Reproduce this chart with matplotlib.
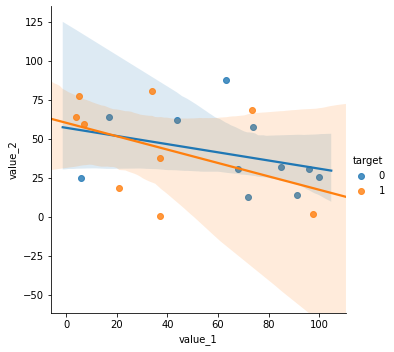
import matplotlib
matplotlib.use("Agg")
import matplotlib.pyplot as plt
import seaborn as sns
import pandas as pd

# points, per target group
x_0 = [6, 17, 44, 63, 74, 68, 85, 96, 100, 72, 91]
y_0 = [25, 64, 62, 88, 57.5, 30.5, 32, 30.5, 25.5, 12.6, 14]
x_1 = [5, 4, 7, 34, 37, 73.5, 21, 37, 97.5]
y_1 = [77.4, 64, 59.5, 80.6, 37.6, 68.4, 18.4, 0.5, 1.7]
targets = [0, 1]
colors = sns.color_palette()[:2]

df = pd.DataFrame({
    "value_1": x_0 + x_1,
    "value_2": y_0 + y_1,
    "target": [0] * len(x_0) + [1] * len(x_1),
})

fig, ax = plt.subplots(figsize=(394 / 72, 352 / 72), dpi=72)
fig.subplots_adjust(left=0.129, right=0.878, top=0.983, bottom=0.110)

# x range the fit lines are drawn over (non-truncated, as in the reference)
fit_ranges = [(-1.3, 104.7), (-6.0, 110.5)]
for t, c, rng in zip(targets, colors, fit_ranges):
    sub = df[df["target"] == t]
    ax.set_xlim(*rng)
    sns.regplot(data=sub, x="value_1", y="value_2", ax=ax, color=c,
                truncate=False, seed=0, label=str(t))

ax.set_xlim(-6.0, 110.5)
ax.set_ylim(-61.7, 135.3)
ax.set_yticks([-50, -25, 0, 25, 50, 75, 100, 125])
ax.set_xticks([0, 20, 40, 60, 80, 100])
sns.despine(ax=ax)

handles = [ax.collections[0], ax.collections[2]]
fig.legend(handles, ["0", "1"], title="target", loc="center right",
           bbox_to_anchor=(1.0, 0.5), frameon=False)

fig.savefig("out.png", dpi=72)
